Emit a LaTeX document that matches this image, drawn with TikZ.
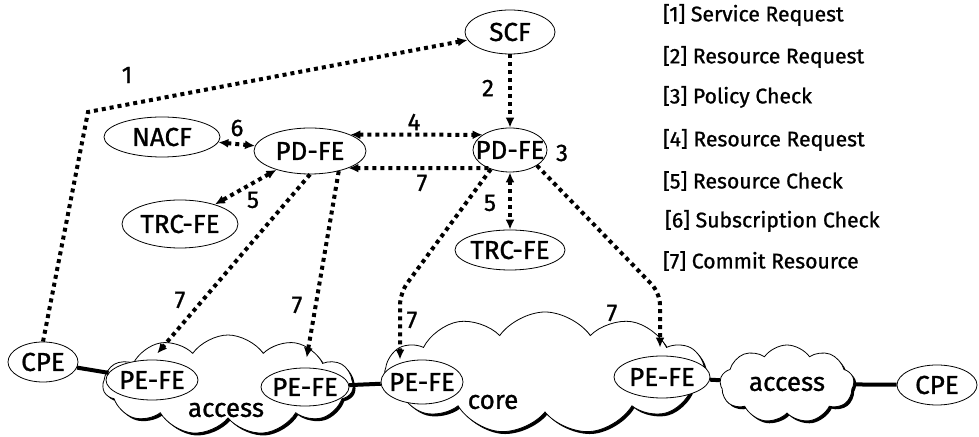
\documentclass[tikz,border=0pt]{standalone}
\usepackage{fontspec}
\setmainfont{Fira Sans}[FakeBold=1]
\usetikzlibrary{shapes.geometric,shapes.symbols,arrows.meta,shadows}

\begin{document}
\begin{tikzpicture}[x=0.5pt,y=-0.5pt,>={Latex[length=5pt,width=4.5pt]},
				main node/.style = {ellipse,draw,fill=white,inner xsep = -5pt,inner ysep = 0pt,font=\fontsize{13}{15}\selectfont},
				cloud node/.style = {cloud,draw,fill=white,cloud puffs=11,cloud puff arc=110,cloud ignores aspect,inner sep = 0pt,
					drop shadow={shadow xshift=1.2pt,shadow yshift=-1.2pt,opacity=1,fill=black}},
				msg/.style = {line width=2pt,dash pattern=on 2pt off 2pt},
				link/.style = {line width=2pt},
				num/.style = {font=\fontsize{12}{14}\selectfont},
				legend/.style = {anchor=west,font=\fontsize{10.6}{12}\selectfont}]
				
				\useasboundingbox (0,0) rectangle (979,437);
				
				\node[cloud node,minimum width=125pt,minimum height=50pt] (c1) at (228,385) {};
				\node[cloud node,minimum width=160pt,minimum height=61pt] (c2) at (545,373) {};
				\node[cloud node,minimum width=67pt,minimum height=39pt,cloud puffs=9] (c3) at (787,384) {};
				\node at (226,410) {\fontsize{13}{15}\selectfont access};
				\node at (493,402) {\fontsize{13}{15}\selectfont core};
				\node at (787,384) {\fontsize{13}{15}\selectfont access};
				
				\node[main node,minimum width=45pt,minimum height=22pt] (1) at (510,32) {SCF};
				\node[main node,minimum width=58pt,minimum height=20pt] (2) at (162,137) {NACF};
				\node[main node,minimum width=56pt,minimum height=23pt] (3) at (310,151) {PD-FE};
				\node[main node,minimum width=37pt,minimum height=22pt,inner xsep=-9pt] (4) at (510,150) {PD-FE};
				\node[main node,minimum width=58pt,minimum height=24pt] (5) at (180,224) {TRC-FE};
				\node[main node,minimum width=55pt,minimum height=20pt] (6) at (510,250) {TRC-FE};
				\node[main node,minimum width=35pt,minimum height=20pt] (7) at (43,362) {CPE};
				\node[main node,minimum width=46pt,minimum height=20pt] (8) at (152,380) {PE-FE};
				\node[main node,minimum width=44pt,minimum height=19pt] (9) at (305,387) {PE-FE};
				\node[main node,minimum width=41pt,minimum height=22pt] (10) at (422,382) {PE-FE};
				\node[main node,minimum width=48pt,minimum height=21pt] (11) at (662,377) {PE-FE};
				\node[main node,minimum width=40pt,minimum height=20pt] (12) at (937,385) {CPE};
				
				\coordinate (k1) at (88,112);
				\coordinate (k2) at (400,293);
				\coordinate (k3) at (660,293);
				
				\draw[msg,->] (7.north) -- (k1) -- (1);
				\draw[msg,->] (1.south) -- (4.north);
				\draw[msg,<->] (3.22) -- (4.151);
				\draw[msg,->] (4.220) -- (3.-24);
				\draw[msg,<->] (2) -- (3);
				\draw[msg,<->] (3) -- (5);
				\draw[msg,<->] (4) -- (6);
				\draw[msg,->,shorten >=4pt] (3.south) -- (8.north);
				\draw[msg,->,shorten >=5pt] (3.-35) -- (9.north);
				\draw[msg,->,rounded corners=6pt] (4.225) -- (k2) -- (k2 |- 10.north);
				\draw[msg,->,rounded corners=6pt,shorten >=4pt] (4.-30) -- (k3) -- (k3 |- 11.north);
				
				\draw[link] (7) -- (8);
				\draw[link] (9) -- (10);
				\draw[link] (11) -- (c3);
				\draw[link] (c3) -- (12);
				
				\node[num] at (127,75) {1};
				\node[num] at (488,88) {2};
				\node[num] at (562,153) {3};
				\node[num] at (414,122) {4};
				\node[num] at (253,200) {5};
				\node[num] at (490,203) {5};
				\node[num] at (237,128) {6};
				\node[num] at (422,183) {7};
				\node[num] at (180,300) {7};
				\node[num] at (297,305) {7};
				\node[num] at (412,320) {7};
				\node[num] at (612,313) {7};
				
				\node[legend] at (656,15) {[1] Service Request};
				\node[legend] at (656,57) {[2] Resource Request};
				\node[legend] at (656,97) {[3] Policy Check};
				\node[legend] at (656,140) {[4] Resource Request};
				\node[legend] at (656,181) {[5] Resource Check};
				\node[legend] at (658,221) {[6] Subscription Check};
				\node[legend] at (656,261) {[7] Commit Resource};
				\end{tikzpicture}
\end{document}
